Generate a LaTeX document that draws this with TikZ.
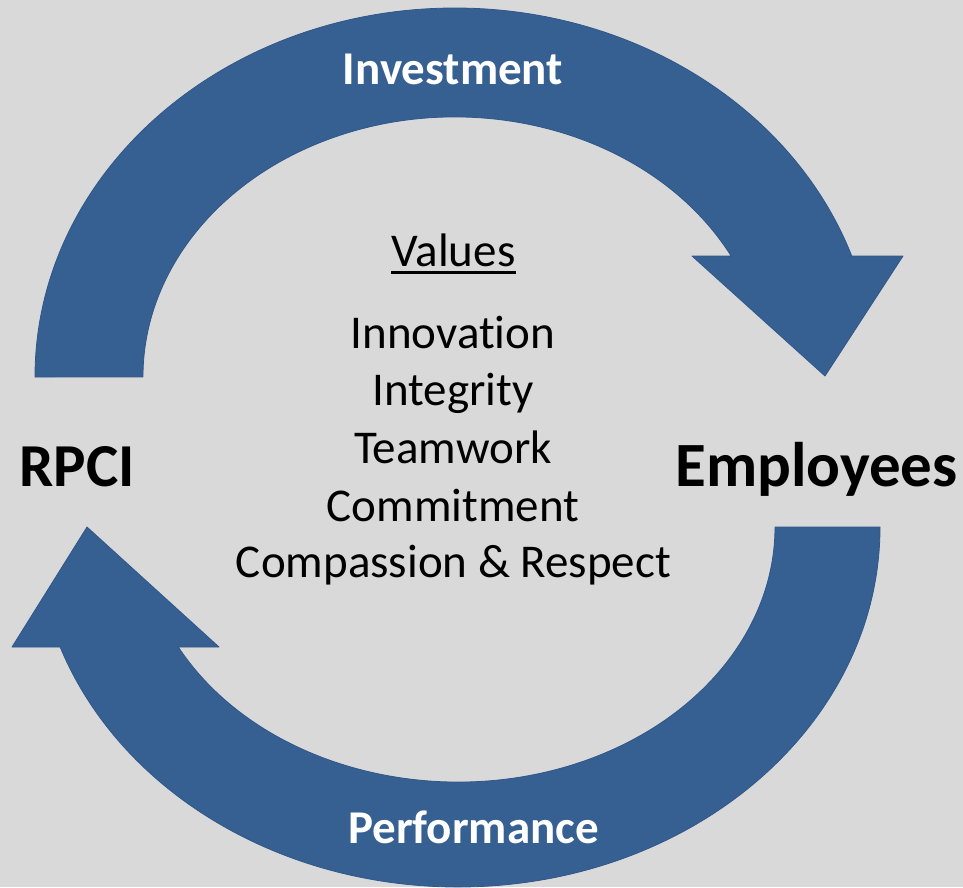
\documentclass[tikz,border=0pt]{standalone}
\usepackage{fontspec}
\setmainfont{Carlito}[Ligatures={NoCommon}]
\definecolor{bgray}{HTML}{D9D9D9}
\definecolor{arrowblue}{HTML}{376092}
\definecolor{arrowedge}{HTML}{30578A}
\begin{document}
\begin{tikzpicture}[x=1pt,y=1pt,
  bluearrow/.style={fill=arrowblue, draw=arrowedge, line width=0.8pt, line join=round},
  txt/.style={inner sep=0pt, anchor=base, font=\fontsize{47}{56}\selectfont},
  lbl/.style={inner sep=0pt, anchor=base, text=white, font=\fontsize{47}{56}\selectfont\bfseries},
  actor/.style={inner sep=0pt, anchor=base, font=\fontsize{61}{72}\selectfont\bfseries}]
\fill[bgray] (0,0) rectangle (963,-887);
\useasboundingbox (0,0) rectangle (963,-887);
% top arrow (Investment)
\draw[bluearrow] (35,-377) arc[start angle=180, end angle=19.14, x radius=420, y radius=369]
  -- (903,-256) -- (825,-376) -- (692,-256) -- (731.2,-256.1)
  arc[start angle=27.7, end angle=180, x radius=312, y radius=260] -- cycle;
% bottom arrow (Performance)
\draw[bluearrow] (880,-527) arc[start angle=0, end angle=-160.53, x radius=422, y radius=360]
  -- (12,-647) -- (87,-527) -- (219,-647) -- (178.3,-647)
  arc[start angle=-151.93, end angle=0, x radius=317, y radius=255] -- cycle;
% labels
\node[lbl] (inv) at (453,-84) {Investment};
\node[lbl] (perf) at (473.5,-843) {Performance};
\node[actor] (rpci) at (77,-486) {RPCI};
\node[actor, font=\fontsize{63}{74}\selectfont\bfseries] (emp) at (816.5,-486) {Employees};
\node[txt] (val) at (453.5,-266) {Values};
\draw[line width=3pt] ([yshift=-6pt]val.base west) -- ([yshift=-6pt]val.base east);
\node[txt] (v1) at (453,-348) {Innovation};
\node[txt] (v2) at (453,-405.5) {Integrity};
\node[txt] (v3) at (453,-463) {Teamwork};
\node[txt] (v4) at (453,-521) {Commitment};
\node[txt] (v5) at (453.5,-577) {Compassion \& Respect};
\end{tikzpicture}
\end{document}
